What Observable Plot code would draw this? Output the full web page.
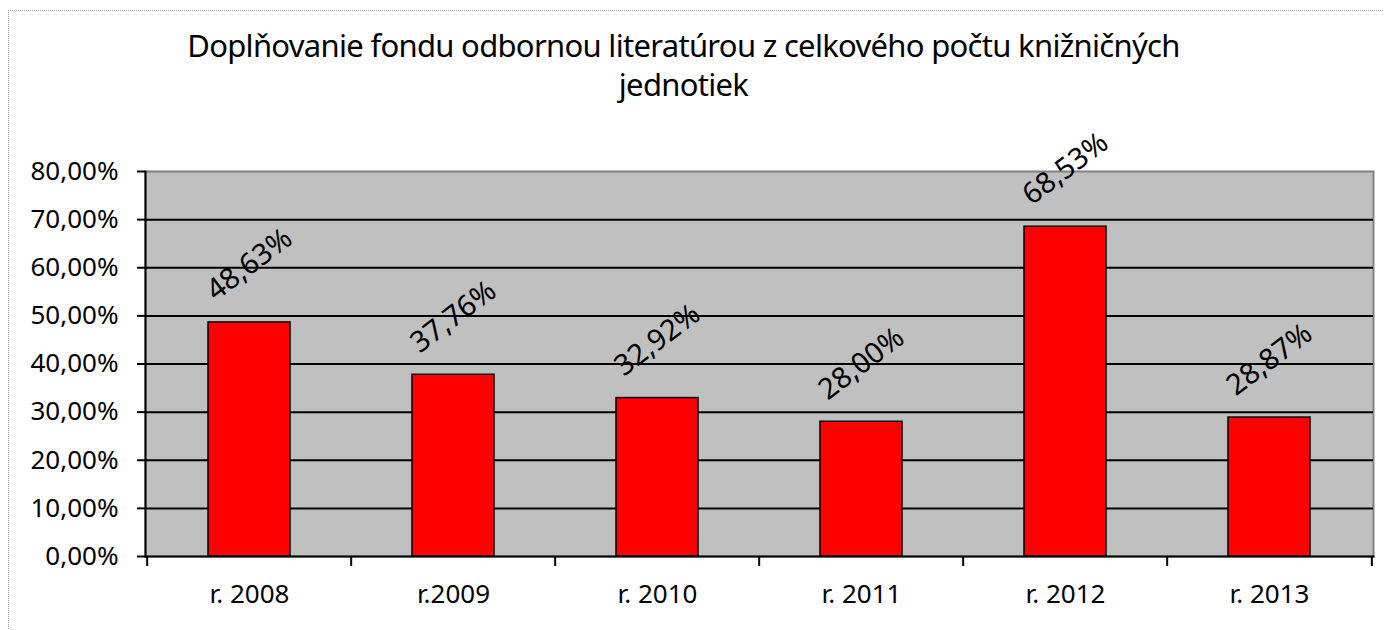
<!DOCTYPE html>
<html><head><meta charset="utf-8">
<script src="https://cdn.jsdelivr.net/npm/d3@7"></script>
<script src="https://cdn.jsdelivr.net/npm/@observablehq/plot@0.6"></script>
<style>
body{margin:0;background:#fff;}
#wrap{position:relative;width:1384px;height:630px;overflow:hidden;font-family:"Noto Sans","Open Sans",sans-serif;color:#000;}
#border{position:absolute;left:8px;top:10px;width:1400px;height:640px;border-top:1px dotted #a0a0a0;border-left:1px dotted #a0a0a0;}
#title{position:absolute;left:0;top:26px;width:1367px;text-align:center;font-size:31px;line-height:39px;letter-spacing:-0.7px;}
#chart{position:absolute;left:0;top:0;}
</style>
</head><body>
<div id="wrap">
  <div id="border"></div>
  <div id="title">Doplňovanie fondu odbornou literatúrou z celkového počtu knižničných<br>jednotiek</div>
  <div id="chart"></div>
</div>
<script>
const categories = ["r. 2008", "r.2009", "r. 2010", "r. 2011", "r. 2012", "r. 2013"];
const values = [48.63, 37.76, 32.92, 28.00, 68.53, 28.87];
const yTicks = [0, 10, 20, 30, 40, 50, 60, 70, 80];

const data = categories.map((c, i) => ({cat: c, value: values[i]}));
const W = 1384, H = 630, mL = 145, mR = 11, mT = 171, mB = 74;
const step = (W - mL - mR) / categories.length;
const fmt = v => v.toFixed(2).replace(".", ",") + "%";
const font = '"Noto Sans","Open Sans",sans-serif';

const chart = Plot.plot({
  width: W, height: H,
  marginLeft: mL, marginRight: mR, marginTop: mT, marginBottom: mB,
  style: {fontFamily: font, fontSize: "26px", background: "transparent", color: "#000", overflow: "visible"},
  x: {domain: categories, paddingInner: 0.6, paddingOuter: 0.3, label: null},
  y: {domain: [0, 80], label: null},
  marks: [
    Plot.frame({fill: "#C0C0C0", stroke: "#808080", strokeWidth: 2}),
    Plot.ruleY(yTicks.filter(t => t > 0 && t < 80), {stroke: "#000", strokeWidth: 2}),
    Plot.barY(data, {x: "cat", y: "value", fill: "#FF0000", stroke: "#000", strokeWidth: 1.5}),
    Plot.frame({anchor: "left", stroke: "#000", strokeWidth: 2}),
    Plot.frame({anchor: "bottom", stroke: "#000", strokeWidth: 2}),
    Plot.axisY({ticks: yTicks, tickFormat: fmt, tickSize: 8, tickPadding: 19, strokeWidth: 2, fontSize: 26, label: null}),
    Plot.axisX({tickSize: 0, tickPadding: 28, fontSize: 26, label: null}),
    Plot.axisX({ticks: categories, tickSize: 10, text: null, strokeWidth: 2, dx: -step / 2, label: null}),
    Plot.axisX({ticks: categories.slice(-1), tickSize: 10, text: null, strokeWidth: 2, dx: step / 2, label: null}),
    Plot.text(data, {x: "cat", y: "value", text: d => fmt(d.value), rotate: -37, dy: -58, fontSize: 29, fill: "#000"})
  ]
});
document.getElementById("chart").appendChild(chart);
</script>
</body></html>
